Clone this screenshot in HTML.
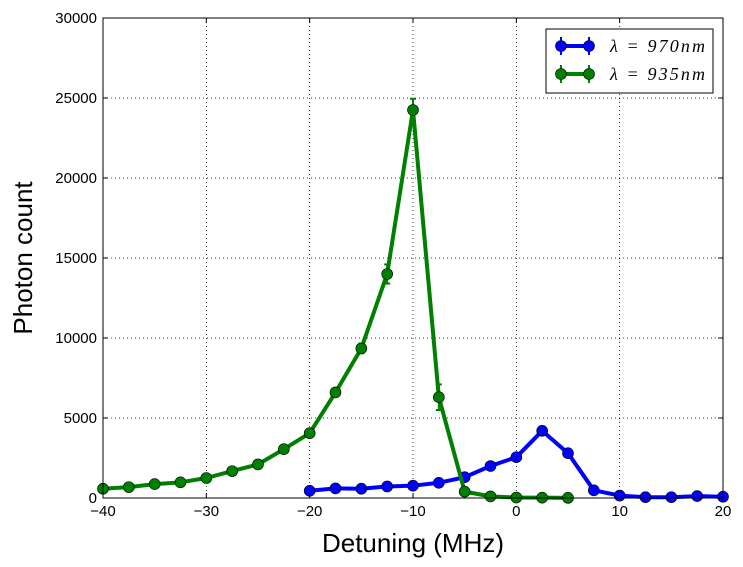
<!DOCTYPE html>
<html><head><meta charset="utf-8"><style>body{margin:0;background:#fff}svg{display:block;font-family:"Liberation Sans",sans-serif}</style></head>
<body>
<svg id="c" width="743" height="567"></svg>
<script>
const blueX=[-20,-17.5,-15,-12.5,-10,-7.5,-5,-2.5,0,2.5,5,7.5,10,12.5,15,17.5,20];
const blueY=[450,600,580,720,770,950,1300,2000,2550,4200,2800,480,150,50,50,120,80];
const blueErr=[50,50,50,60,60,80,100,120,150,200,150,60,40,30,30,30,30];
const greenX=[-40,-37.5,-35,-32.5,-30,-27.5,-25,-22.5,-20,-17.5,-15,-12.5,-10,-7.5,-5,-2.5,0,2.5,5];
const greenY=[580,680,870,980,1250,1680,2100,3050,4050,6600,9350,14000,24250,6300,400,100,30,20,10];
const greenErr=[40,40,50,50,60,80,100,120,150,250,300,600,700,800,80,40,30,20,10];
const xTicks=[-40,-30,-20,-10,0,10,20];
const yTicks=[0,5000,10000,15000,20000,25000,30000];
const L=103,R=723,T=18,B=498;
const sx=v=>L+(v+40)/60*(R-L), sy=v=>B-v/30000*(B-T);
const svg=document.getElementById('c');const NS='http://www.w3.org/2000/svg';
function mk(t,a,p){const e=document.createElementNS(NS,t);for(const k in a)e.setAttribute(k,a[k]);(p||svg).appendChild(e);return e;}
mk('rect',{x:L,y:T,width:R-L,height:B-T,fill:'#fff'});
xTicks.forEach(v=>{const g=mk('line',{x1:sx(v),x2:sx(v),y1:T,y2:B,stroke:'#000','stroke-dasharray':'1,3','stroke-width':0.8});

const t=mk('text',{x:sx(v),y:B+18,'text-anchor':'middle','font-size':15});t.textContent=v<0?'\u2212'+(-v):v;

mk('line',{x1:sx(v),x2:sx(v),y1:B,y2:B-5,stroke:'#000'});mk('line',{x1:sx(v),x2:sx(v),y1:T,y2:T+5,stroke:'#000'});});
yTicks.forEach(v=>{const g=mk('line',{x1:L,x2:R,y1:sy(v),y2:sy(v),stroke:'#000','stroke-dasharray':'1,3','stroke-width':0.8});

const t=mk('text',{x:L-6,y:sy(v)+5,'text-anchor':'end','font-size':15});t.textContent=v;

mk('line',{x1:L,x2:L+5,y1:sy(v),y2:sy(v),stroke:'#000'});mk('line',{x1:R,x2:R-5,y1:sy(v),y2:sy(v),stroke:'#000'});});
function series(X,Y,E,col,name){
const g=mk('g',{});
X.forEach((x,i)=>{const l=mk('line',{x1:sx(x),x2:sx(x),y1:sy(Y[i]-E[i]),y2:sy(Y[i]+E[i]),stroke:col,'stroke-width':2},g);

mk('line',{x1:sx(x)-3,x2:sx(x)+3,y1:sy(Y[i]-E[i]),y2:sy(Y[i]-E[i]),stroke:col,'stroke-width':2},g);
mk('line',{x1:sx(x)-3,x2:sx(x)+3,y1:sy(Y[i]+E[i]),y2:sy(Y[i]+E[i]),stroke:col,'stroke-width':2},g);});
const p=mk('polyline',{points:X.map((x,i)=>sx(x)+','+sy(Y[i])).join(' '),fill:'none',stroke:col,'stroke-width':4,'stroke-linejoin':'round'},g);

X.forEach((x,i)=>{const c=mk('circle',{cx:sx(x),cy:sy(Y[i]),r:5.5,fill:col,stroke:'#000','stroke-width':0.6},g);
});}
series(blueX,blueY,blueErr,'#0000ff','series-970nm');
series(greenX,greenY,greenErr,'#008000','series-935nm');
mk('rect',{x:L,y:T,width:R-L,height:B-T,fill:'none',stroke:'#000','stroke-width':1});
</script>
<svg width="743" height="567" style="position:absolute;left:0;top:0">
<text x="413" y="552" text-anchor="middle" font-size="26" font-family="Liberation Sans,sans-serif">Detuning (MHz)</text>
<text transform="translate(32,258) rotate(-90)" text-anchor="middle" font-size="26" font-family="Liberation Sans,sans-serif">Photon count</text>
<g>
<rect x="546" y="29" width="167" height="64" fill="#fff" stroke="#000"/>
<g>
<line x1="556" x2="590" y1="46" y2="46" stroke="#0000ff" stroke-width="4"/>
<line x1="561" x2="561" y1="37" y2="55" stroke="#0000ff" stroke-width="2"/><line x1="589" x2="589" y1="37" y2="55" stroke="#0000ff" stroke-width="2"/>
<circle cx="561" cy="46" r="5.5" fill="#0000ff" stroke="#000" stroke-width="0.6"/><circle cx="589" cy="46" r="5.5" fill="#0000ff" stroke="#000" stroke-width="0.6"/>
<text x="610" y="52" font-size="18" font-family="Liberation Serif,serif" font-style="italic" textLength="95" lengthAdjust="spacing">λ = 970nm</text></g>
<g>
<line x1="556" x2="590" y1="74" y2="74" stroke="#008000" stroke-width="4"/>
<line x1="561" x2="561" y1="65" y2="83" stroke="#008000" stroke-width="2"/><line x1="589" x2="589" y1="65" y2="83" stroke="#008000" stroke-width="2"/>
<circle cx="561" cy="74" r="5.5" fill="#008000" stroke="#000" stroke-width="0.6"/><circle cx="589" cy="74" r="5.5" fill="#008000" stroke="#000" stroke-width="0.6"/>
<text x="610" y="80" font-size="18" font-family="Liberation Serif,serif" font-style="italic" textLength="95" lengthAdjust="spacing">λ = 935nm</text></g>
</g>
</svg>
</body></html>
